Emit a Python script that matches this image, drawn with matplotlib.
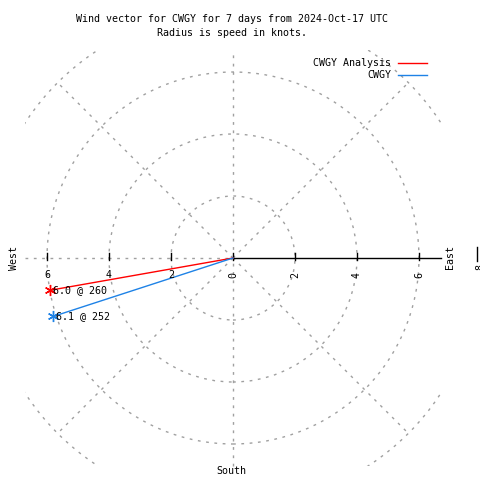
import numpy as np
import matplotlib
matplotlib.use("Agg")
import matplotlib.pyplot as plt
from matplotlib.patches import Circle, Rectangle

# ---- data ----
series_names = ["CWGY Analysis", "CWGY"]
speeds = [6.0, 6.1]          # knots
directions = [260, 252]      # degrees (from north, clockwise)
series_colors = ["#ff0000", "#1e82e6"]
ring_radii = [2, 4, 6, 8]
tick_values = [2, 4, 6]
title_lines = ["Wind vector for CWGY for 7 days from 2024-Oct-17 UTC",
               "Radius is speed in knots."]

MONO = "DejaVu Sans Mono"
FS = 7.2

fig = plt.figure(figsize=(4.8, 4.8), dpi=100)
ax = fig.add_axes([0, 0, 1, 1])
ax.set_xlim(-233 / 31, (480 - 233) / 31)
ax.set_ylim(-(480 - 258) / 31, 258 / 31)
ax.axis("off")

lim = 6.71
clip = Rectangle((-lim, -lim), 2 * lim, 2 * lim, transform=ax.transData,
                 fill=False, visible=False)
ax.add_patch(clip)

gray = "#a0a0a0"
dash = (0, (2, 4))

# rings
for r in ring_radii:
    c = Circle((0, 0), r, fill=False, ec=gray, lw=1, ls=dash)
    ax.add_patch(c)
    c.set_clip_path(clip)

# diagonal spokes
for ang in [45, 135, 225, 315]:
    a = np.deg2rad(ang)
    ax.plot([0, 8 * np.sin(a)], [0, 8 * np.cos(a)], color=gray, lw=1, ls=dash)

# vertical spoke and west half of horizontal
ax.plot([0, 0], [-lim, lim], color=gray, lw=1, ls=dash)
ax.plot([-lim, 0], [0, 0], color=gray, lw=1, ls=dash)
# east axis (solid)
ax.plot([0, lim], [0, 0], color="black", lw=1)

# ticks
for t in [-6, -4, -2, 0, 2, 4, 6]:
    ax.plot([t, t], [-0.05, 0.15], color="black", lw=1)
ax.plot([7.86, 7.86], [-0.1, 0.35], color="black", lw=1)

# tick labels
for t in tick_values:
    ax.text(-t, -0.55, str(t), ha="center", va="center", family=MONO, fontsize=FS)
    ax.text(t, -0.55, str(t), ha="center", va="center", family=MONO, fontsize=FS,
            rotation=90)
ax.text(0, -0.55, "0", ha="center", va="center", family=MONO, fontsize=FS, rotation=90)
ax.text(7.98, -0.3, "8", ha="center", va="center", family=MONO, fontsize=FS, rotation=90)

# compass labels
ax.text(-7.05, 0, "West", ha="center", va="center", family=MONO, fontsize=FS, rotation=90)
ax.text(7.0, 0.03, "East", ha="center", va="center", family=MONO, fontsize=FS, rotation=90)
ax.text(-0.05, -6.88, "South", ha="center", va="center", family=MONO, fontsize=FS)

# vectors
for name, s, d, col in zip(series_names, speeds, directions, series_colors):
    a = np.deg2rad(d)
    x, y = s * np.sin(a), s * np.cos(a)
    ax.plot([0, x], [0, y], color=col, lw=1)
    ax.plot([x], [y], marker=(6, 2, 0), color=col, ms=8, mew=1)
    ax.text(x + 0.1, y, f"{s:.1f} @ {d}", ha="left", va="center",
            family=MONO, fontsize=FS)

# legend
for i, (name, col) in enumerate(zip(series_names, series_colors)):
    ypx = 62.5 + 12.5 * i
    fig.text(391 / 480, 1 - ypx / 480, name, ha="right", va="center",
             family=MONO, fontsize=FS)
    fig.add_artist(plt.Line2D([398 / 480, 427 / 480], [1 - ypx / 480] * 2,
                              color=col, lw=1))

# title
fig.text(232 / 480, 1 - 19 / 480, title_lines[0], ha="center", va="center",
         family=MONO, fontsize=FS)
fig.text(232 / 480, 1 - 33 / 480, title_lines[1], ha="center", va="center",
         family=MONO, fontsize=FS)

fig.savefig("out.png", dpi=100)
